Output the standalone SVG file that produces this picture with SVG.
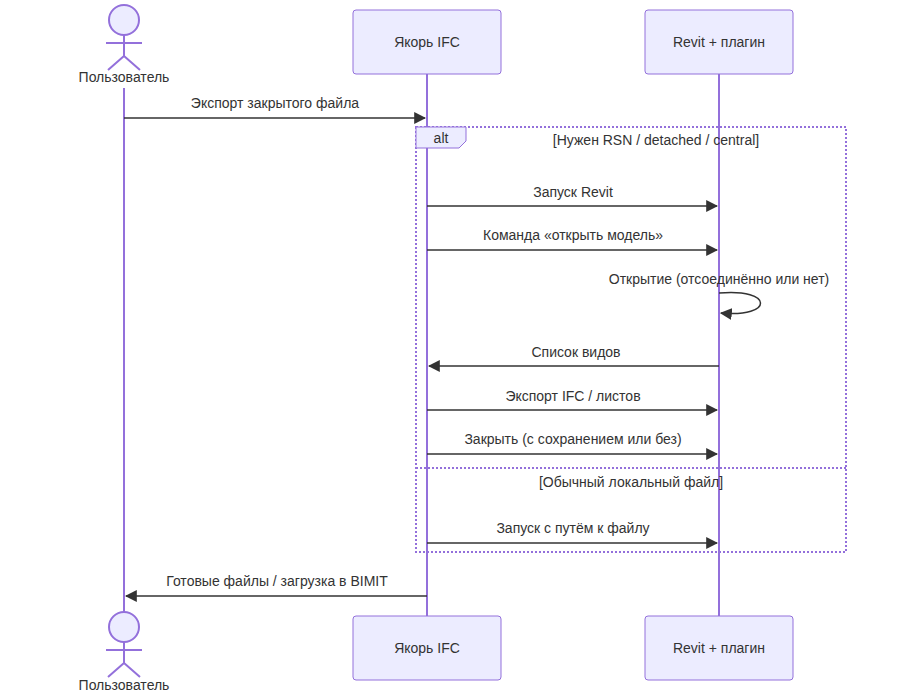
<svg xmlns="http://www.w3.org/2000/svg" width="903" height="697" viewBox="0 0 903 697">
<style>
text{font-family:"Liberation Sans",Arial,sans-serif;font-size:14px;fill:#333;text-anchor:middle}
.box{fill:#ECECFF;stroke:#9370DB;stroke-width:1}
.life{stroke:#9370DB;stroke-width:2}
.msg{stroke:#333;stroke-width:1.5;fill:none}
.actor{fill:#ECECFF;stroke:#9370DB;stroke-width:2}
.loop{fill:none;stroke:#9370DB;stroke-width:2;stroke-dasharray:2 2}
</style>
<defs>
<marker id="ah" viewBox="0 0 10 10" refX="9" refY="5" markerWidth="8" markerHeight="8" orient="auto-start-reverse"><path d="M0,0 L10,5 L0,10 z" fill="#333"/></marker>
</defs>
<rect width="903" height="697" fill="#fff"/>
<g id="lifelines">
<line class="life" x1="124" y1="88" x2="124" y2="612"/>
<line class="life" x1="427" y1="74" x2="427" y2="616"/>
<line class="life" x1="719" y1="74" x2="719" y2="616"/>
</g>
<g id="alt">
<rect class="loop" x="416" y="127" width="430" height="425"/>
<path d="M416,127 H466 V141 L459,148 H416 Z" fill="#ECECFF" stroke="#9370DB"/>
<text x="441" y="143">alt</text>
<text x="656" y="145">[Нужен RSN / detached / central]</text>
<line class="loop" x1="416" y1="468" x2="846" y2="468"/>
<text x="631" y="487">[Обычный локальный файл]</text>
</g>
<g id="user">
<circle class="actor" cx="124" cy="20" r="15"/>
<path class="actor" fill="none" d="M124,35 V56 M106,43 H142 M124,56 L108,70 M124,56 L140,70"/>
<text x="124" y="82">Пользователь</text>
</g>
<g id="user-bottom">
<circle class="actor" cx="124" cy="627" r="15"/>
<path class="actor" fill="none" d="M124,642 V663 M106,650 H142 M124,663 L108,677 M124,663 L140,677"/>
<text x="124" y="690">Пользователь</text>
</g>
<g id="ifc"><rect class="box" x="353" y="10" width="148" height="64" rx="3"/><text x="427" y="47">Якорь IFC</text></g>
<g id="revit"><rect class="box" x="645" y="10" width="148" height="64" rx="3"/><text x="719" y="47">Revit + плагин</text></g>
<g id="ifc-bottom"><rect class="box" x="353" y="616" width="148" height="64" rx="3"/><text x="427" y="653">Якорь IFC</text></g>
<g id="revit-bottom"><rect class="box" x="645" y="616" width="148" height="64" rx="3"/><text x="719" y="653">Revit + плагин</text></g>
<g id="connectors">
<line class="msg" x1="124" y1="118" x2="425" y2="118" marker-end="url(#ah)"/>
<text x="275" y="108">Экспорт закрытого файла</text>
<line class="msg" x1="427" y1="206" x2="717" y2="206" marker-end="url(#ah)"/>
<text x="573" y="197">Запуск Revit</text>
<line class="msg" x1="427" y1="250" x2="717" y2="250" marker-end="url(#ah)"/>
<text x="573" y="240">Команда «открыть модель»</text>
<path class="msg" d="M719,293 C774,288 774,318 721,313" marker-end="url(#ah)"/>
<text x="719" y="284">Открытие (отсоединённо или нет)</text>
<line class="msg" x1="719" y1="366" x2="429" y2="366" marker-end="url(#ah)"/>
<text x="576" y="357">Список видов</text>
<line class="msg" x1="427" y1="410" x2="717" y2="410" marker-end="url(#ah)"/>
<text x="573" y="401">Экспорт IFC / листов</text>
<line class="msg" x1="427" y1="454" x2="717" y2="454" marker-end="url(#ah)"/>
<text x="573" y="444">Закрыть (с сохранением или без)</text>
<line class="msg" x1="427" y1="543" x2="717" y2="543" marker-end="url(#ah)"/>
<text x="573" y="533">Запуск с путём к файлу</text>
<line class="msg" x1="427" y1="596" x2="126" y2="596" marker-end="url(#ah)"/>
<text x="277" y="586">Готовые файлы / загрузка в BIMIT</text>
</g>
</svg>
